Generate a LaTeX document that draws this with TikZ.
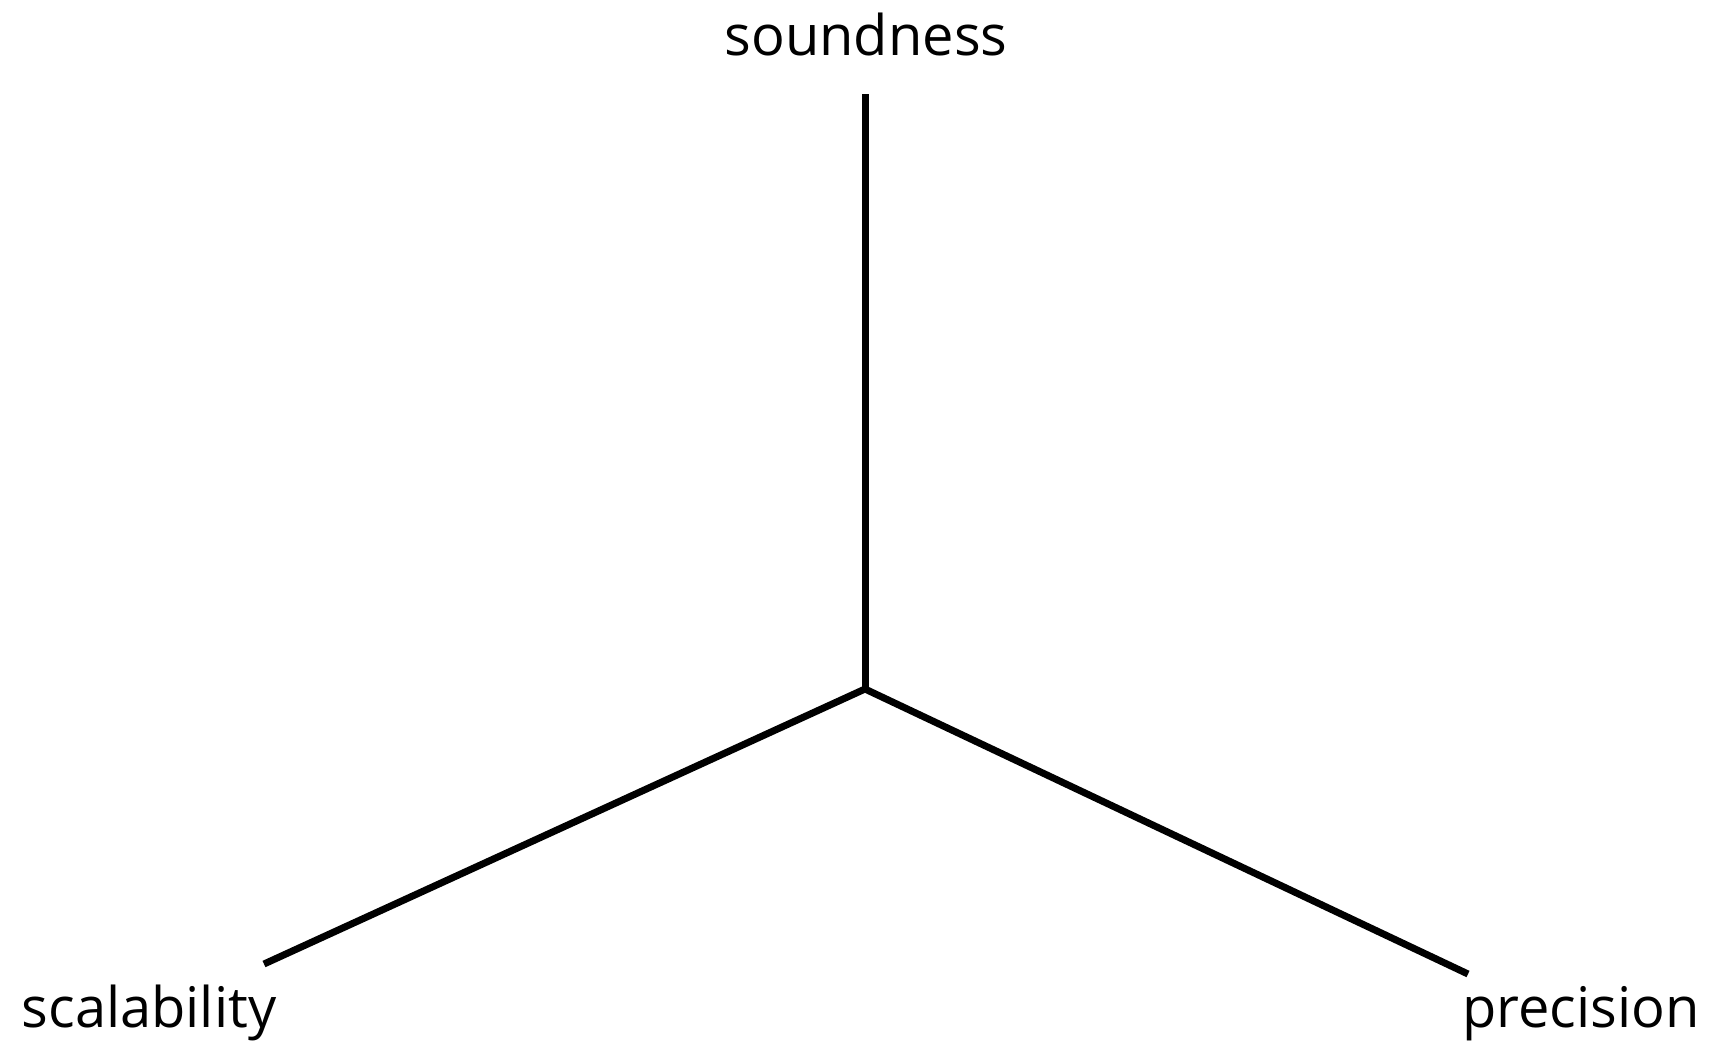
\documentclass[tikz,border=0pt]{standalone}
\usepackage{fontspec}
\setmainfont{Open Sans}
\begin{document}
\begin{tikzpicture}[x=1pt,y=-1pt,
  axis/.style={line width=7pt, black},
  lab/.style={font=\fontsize{56}{63}\selectfont, inner sep=0pt, anchor=base}]
\useasboundingbox (0,0) rectangle (1710,1042);
\coordinate (c) at (865,689);
\coordinate (t) at (865,94);
\coordinate (l) at (264,964);
\coordinate (r) at (1468,974);
\draw[axis] (t) -- (c);
\draw[axis] (c) -- (l);
\draw[axis] (c) -- (r);
\node[lab] (snd) at (866,55) {soundness};
\node[lab] (scl) at (149,1027) {scalability};
\node[lab] (prc) at (1581,1027) {precision};
\end{tikzpicture}
\end{document}
